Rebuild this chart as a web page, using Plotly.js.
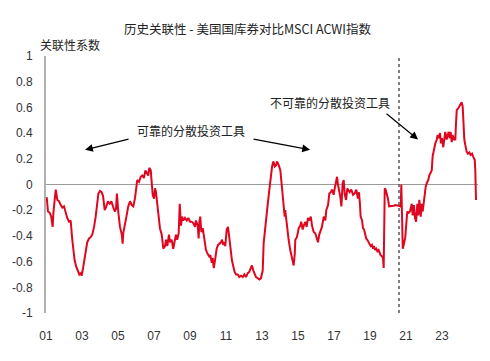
<!DOCTYPE html>
<html>
<head>
<meta charset="utf-8">
<script src="https://cdn.plot.ly/plotly-3.0.1.min.js"></script>
<style>html,body{margin:0;padding:0;background:#fff;}#chart{width:490px;height:361px;}</style>
</head>
<body>
<div id="chart"></div>
<script>
// Decimal years
var years = [
2001.00,2001.04,2001.11,2001.21,2001.29,2001.37,2001.41,2001.54,2001.63,2001.72,2001.82,2001.91,
2002.00,2002.09,2002.18,2002.28,2002.37,2002.46,2002.52,2002.59,2002.68,2002.78,2002.85,2002.93,2002.98,
2003.06,2003.11,2003.21,2003.29,2003.39,2003.48,2003.57,2003.67,2003.76,2003.85,2003.91,
2004.00,2004.09,2004.17,2004.26,2004.35,2004.44,2004.54,2004.63,2004.72,2004.82,2004.89,2004.94,
2005.02,2005.11,2005.21,2005.26,2005.29,2005.39,2005.48,2005.57,2005.67,2005.76,2005.85,2005.94,
2006.00,2006.07,2006.17,2006.26,2006.35,2006.44,2006.52,2006.59,2006.68,2006.74,2006.82,2006.87,2006.93,
2007.00,2007.06,2007.11,2007.15,2007.21,2007.26,2007.33,2007.43,2007.52,2007.61,2007.67,2007.74,2007.83,2007.89,2007.98,
2008.07,2008.17,2008.22,2008.29,2008.37,2008.43,2008.50,2008.56,2008.63,2008.72,2008.82,2008.91,
2009.00,2009.09,2009.18,2009.28,2009.33,2009.43,2009.48,2009.52,2009.57,2009.63,2009.71,2009.76,2009.83,2009.89,2009.98,
2010.07,2010.13,2010.21,2010.26,2010.32,2010.39,2010.48,2010.56,2010.63,2010.72,2010.78,2010.85,2010.91,2010.96,
2011.04,2011.11,2011.18,2011.26,2011.33,2011.41,2011.48,2011.56,2011.65,2011.74,2011.83,2011.93,
2012.02,2012.11,2012.21,2012.29,2012.39,2012.44,2012.52,2012.59,2012.67,2012.76,2012.85,2012.94,
2013.04,2013.09,2013.17,2013.26,2013.32,2013.41,2013.48,2013.56,2013.63,2013.71,2013.78,2013.83,2013.93,
2014.02,2014.07,2014.15,2014.21,2014.26,2014.29,2014.35,2014.41,2014.48,2014.57,2014.63,2014.71,2014.76,2014.82,2014.85,2014.94,
2015.04,2015.13,2015.18,2015.26,2015.32,2015.41,2015.48,2015.56,2015.63,2015.71,2015.78,2015.87,2015.96,
2016.06,2016.11,2016.18,2016.26,2016.33,2016.43,2016.52,2016.57,2016.67,2016.74,2016.82,2016.89,2016.98,
2017.04,2017.11,2017.17,2017.22,2017.29,2017.35,2017.41,2017.48,2017.54,2017.59,2017.67,2017.74,2017.78,2017.87,2017.96,
2018.06,2018.15,2018.24,2018.33,2018.39,2018.44,2018.48,2018.56,2018.61,2018.67,2018.74,2018.79,2018.85,2018.93,2018.98,
2019.04,2019.11,2019.17,2019.22,2019.29,2019.35,2019.41,2019.48,2019.54,2019.59,2019.67,2019.72,2019.76,2019.79,2019.82,2019.87,2019.94,
2020.00,2020.06,2020.13,2020.22,2020.32,2020.41,2020.50,2020.59,2020.67,2020.71,2020.74,2020.78,2020.82,2020.89,2020.96,
2021.02,2021.07,2021.15,2021.22,2021.32,2021.37,2021.44,2021.50,2021.56,2021.63,2021.68,2021.74,2021.82,2021.87,2021.93,
2022.00,2022.04,2022.09,2022.15,2022.24,2022.29,2022.37,2022.43,2022.48,2022.56,2022.63,2022.71,2022.76,2022.82,2022.89,2022.94,
2023.00,2023.07,2023.13,2023.18,2023.26,2023.32,2023.37,2023.43,2023.48,2023.54,2023.59,2023.67,2023.74,2023.78,2023.82,2023.89,2023.96,
2024.04,2024.09,2024.15,2024.18,2024.24,2024.29,2024.37,2024.44,2024.52,2024.59,2024.67,2024.74,2024.82,2024.85,2024.87,2024.89
];
// Correlation coefficients
var correlation = [
-0.11,-0.10,-0.21,-0.22,-0.25,-0.33,-0.22,-0.04,-0.12,-0.13,-0.16,-0.18,
-0.17,-0.22,-0.26,-0.29,-0.28,-0.43,-0.51,-0.59,-0.64,-0.68,-0.70,-0.69,-0.71,
-0.65,-0.61,-0.51,-0.45,-0.42,-0.41,-0.39,-0.33,-0.25,-0.15,-0.07,
-0.05,-0.06,-0.09,-0.20,-0.17,-0.13,-0.15,-0.13,-0.17,-0.21,-0.19,-0.07,
-0.22,-0.33,-0.39,-0.46,-0.38,-0.29,-0.24,-0.17,-0.13,-0.16,-0.17,-0.11,
-0.02,0.035,0.02,0.06,0.07,0.05,0.11,0.09,0.07,0.13,0.11,0.02,-0.08,
-0.11,-0.03,-0.06,-0.11,-0.19,-0.28,-0.34,-0.39,-0.50,-0.48,-0.43,-0.48,-0.39,-0.45,-0.43,
-0.50,-0.41,-0.39,-0.43,-0.38,-0.15,-0.32,-0.25,-0.28,-0.26,-0.28,-0.26,
-0.29,-0.29,-0.30,-0.33,-0.28,-0.32,-0.42,-0.29,-0.25,-0.37,-0.34,-0.39,-0.46,-0.51,-0.54,
-0.56,-0.55,-0.61,-0.57,-0.65,-0.59,-0.50,-0.47,-0.46,-0.45,-0.43,-0.47,-0.45,-0.48,
-0.35,-0.33,-0.41,-0.51,-0.59,-0.64,-0.68,-0.70,-0.70,-0.72,-0.71,-0.72,
-0.70,-0.72,-0.69,-0.68,-0.65,-0.63,-0.67,-0.69,-0.72,-0.73,-0.74,-0.73,
-0.67,-0.46,-0.33,-0.25,-0.15,-0.04,0.06,0.14,0.18,0.14,0.15,0.18,0.15,
0.11,0.035,-0.095,-0.16,-0.25,-0.20,-0.29,-0.38,-0.43,-0.51,-0.56,-0.60,-0.63,-0.54,-0.43,-0.41,
-0.34,-0.32,-0.29,-0.35,-0.32,-0.29,-0.33,-0.26,-0.28,-0.25,-0.32,-0.37,-0.38,
-0.42,-0.45,-0.39,-0.35,-0.33,-0.25,-0.28,-0.20,-0.16,-0.07,-0.06,-0.04,-0.08,
-0.03,0.01,0.06,0.00,-0.04,-0.095,-0.17,0.01,0.035,-0.07,-0.12,-0.03,-0.04,-0.06,-0.04,
-0.08,-0.07,-0.04,-0.11,-0.06,-0.15,-0.25,-0.28,-0.34,-0.35,-0.41,-0.42,-0.43,-0.45,-0.46,
-0.48,-0.47,-0.50,-0.48,-0.51,-0.50,-0.52,-0.51,-0.54,-0.55,-0.56,-0.57,-0.65,-0.30,-0.03,-0.04,-0.07,
-0.11,-0.17,-0.17,-0.17,-0.165,-0.16,-0.16,-0.165,-0.17,-0.16,0.00,-0.30,-0.50,-0.46,-0.41,
-0.30,-0.21,-0.22,-0.21,-0.15,-0.24,-0.16,-0.26,-0.29,-0.15,-0.24,-0.12,-0.25,-0.15,-0.21,
-0.12,-0.06,-0.02,0.01,0.035,0.07,0.10,0.11,0.22,0.28,0.32,0.35,0.385,0.36,0.40,0.32,
0.36,0.29,0.37,0.41,0.35,0.40,0.41,0.36,0.41,0.33,0.385,0.35,0.35,0.48,0.58,0.59,0.605,
0.63,0.64,0.605,0.48,0.35,0.31,0.255,0.24,0.25,0.23,0.24,0.215,0.19,0.11,-0.04,-0.12
];
var xTickVals = [2001,2003,2005,2007,2009,2011,2013,2015,2017,2019,2021,2023];
var xTickText = ['01','03','05','07','09','11','13','15','17','19','21','23'];
var yTickVals = [1,0.8,0.6,0.4,0.2,0,-0.2,-0.4,-0.6,-0.8,-1];
var yTickText = ['1','0.8','0.6','0.4','0.2','0','-0.2','-0.4','-0.6','-0.8','-1'];
var regimeBreak = 2020.61;

var FONT = 'Liberation Sans, Arial, Noto Sans CJK SC, sans-serif';
var CJK = 'Noto Sans CJK SC, Liberation Sans, sans-serif';

var trace = {
  x: years, y: correlation, type: 'scatter', mode: 'lines',
  line: {color: '#e0061f', width: 2},
  hoverinfo: 'skip', showlegend: false
};

var layout = {
  width: 490, height: 361,
  margin: {l: 46, r: 12, t: 56, b: 48},
  paper_bgcolor: '#ffffff', plot_bgcolor: '#ffffff',
  font: {family: FONT, size: 12, color: '#333'},
  title: {text: '历史关联性 - 美国国库券对比MSCI ACWI指数', font: {family: CJK, size: 12.5, color: '#222'},
          x: 0.505, xanchor: 'center', y: 0.917, yanchor: 'middle'},
  xaxis: {
    range: [2001, 2025], showgrid: false, zeroline: false, showline: false,
    tickvals: xTickVals, ticktext: xTickText, ticks: 'outside', ticklen: 12, tickcolor: 'rgba(0,0,0,0)',
    tickfont: {family: FONT, size: 12, color: '#333'}, fixedrange: true
  },
  yaxis: {
    range: [-1, 1], showgrid: false, zeroline: true, zerolinecolor: '#9a9a9a', zerolinewidth: 1.2,
    showline: true, linecolor: '#b0b0b0', linewidth: 2,
    tickvals: yTickVals, ticktext: yTickText, ticks: 'outside', ticklen: 9, tickcolor: 'rgba(0,0,0,0)',
    tickfont: {family: FONT, size: 12, color: '#333'}, fixedrange: true
  },
  shapes: [{
    type: 'line', xref: 'x', yref: 'y', x0: regimeBreak, x1: regimeBreak, y0: -1, y1: 1,
    line: {color: '#555', width: 1.5, dash: 'dot'}
  }],
  annotations: [
    {text: '关联性系数', xref: 'paper', yref: 'paper', x: -0.018, y: 1.045, xanchor: 'left', yanchor: 'middle',
     showarrow: false, font: {family: CJK, size: 12, color: '#222'}},
    {text: '可靠的分散投资工具', xref: 'x', yref: 'y', x: 2009.06, y: 0.42, showarrow: false,
     font: {family: CJK, size: 12, color: '#222'}},
    {text: '', xref: 'x', yref: 'y', x: 2003.17, y: 0.27, ax: 45, ay: -11, showarrow: true,
     arrowhead: 2, arrowsize: 1.3, arrowwidth: 1.2, arrowcolor: '#000'},
    {text: '', xref: 'x', yref: 'y', x: 2015.67, y: 0.27, ax: -58, ay: -11, showarrow: true,
     arrowhead: 2, arrowsize: 1.3, arrowwidth: 1.2, arrowcolor: '#000'},
    {text: '不可靠的分散投资工具', xref: 'x', yref: 'y', x: 2016.78, y: 0.64, showarrow: false,
     font: {family: CJK, size: 12, color: '#222'}},
    {text: '', xref: 'x', yref: 'y', x: 2021.67, y: 0.35, ax: -33, ay: -27, showarrow: true,
     arrowhead: 2, arrowsize: 1.3, arrowwidth: 1.2, arrowcolor: '#000'}
  ]
};

Plotly.newPlot('chart', [trace], layout, {staticPlot: true, displayModeBar: false});
</script>
</body>
</html>
